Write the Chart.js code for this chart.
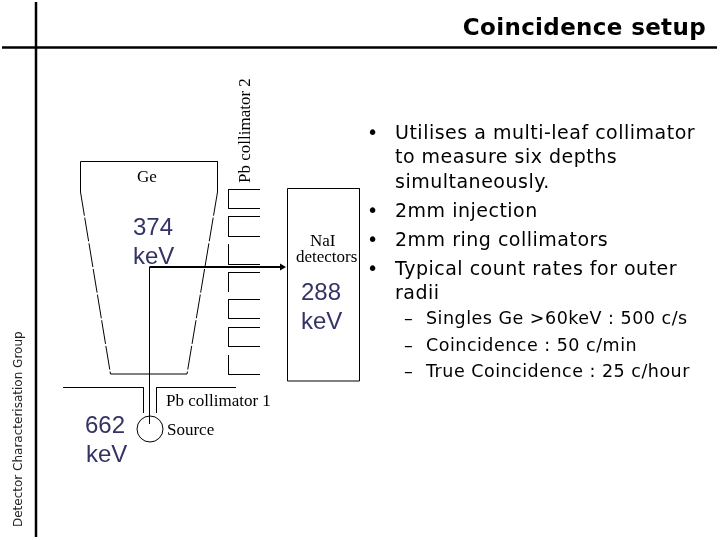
<!DOCTYPE html>
<html><head><meta charset="utf-8">
<style>html,body{margin:0;padding:0;background:#fff}canvas{display:block}</style>
<script src="https://cdn.jsdelivr.net/npm/chart.js@4"></script></head>
<body><canvas id="c" width="720" height="540"></canvas>
<script>
// Diagram geometry (slide units = reference pixels)
const frameVertical = [[36,2],[36,537]];
const frameHorizontal = [[2,47.5],[717,47.5]];
const geTop = [[80.5,192],[80.5,161.5],[217.5,161.5],[217.5,192]];
const geLeftSide = [[80.5,192],[110.5,374]];
const geRightSide = [[217.5,192],[187,374]];
const geBottom = [[110.5,374],[187,374]];
const leafBlocks = [
  [[260,189.5],[228.5,189.5],[228.5,208.5],[260,208.5]],
  [[260,216.5],[228.5,216.5],[228.5,236.5],[260,236.5]],
  [[228.5,244.5],[228.5,264.5],[260,264.5]],
  [[260,272.5],[228.5,272.5],[228.5,292]],
  [[260,299.5],[228.5,299.5],[228.5,318.5],[260,318.5]],
  [[260,327.5],[228.5,327.5],[228.5,346.5],[260,346.5]],
  [[228.5,355],[228.5,374.5],[260,374.5]]
];
const naiBox = [[287.5,188.5],[359.5,188.5],[359.5,381],[287.5,381],[287.5,188.5]];
const beamVertical = [[149.5,267],[149.5,424]];
const beamHorizontal = [[149.5,267],[281,267]];
const arrowHead = [[282,267]];
const pbLeft = [[63,387.5],[143.5,387.5],[143.5,413]];
const pbRight = [[236,387.5],[156.5,387.5],[156.5,413]];
const sourceCircle = [[150,429]];

const titleText = "Coincidence setup";
const sideText = "Detector Characterisation Group";
const bulletLines = ["Utilises a multi-leaf collimator","to measure six depths","simultaneously.","2mm injection","2mm ring collimators","Typical count rates for outer","radii"];
const subLines = ["Singles Ge >60keV : 500 c/s","Coincidence : 50 c/min","True Coincidence : 25 c/hour"];
const energyLabels = ["374","keV","288","keV","662","keV"];
const partLabels = ["Ge","NaI","detectors","Pb collimator 1","Source","Pb collimator 2"];

const line = (pts,w=1,dash=[]) => ({data:pts.map(p=>({x:p[0],y:p[1]})),showLine:true,borderColor:'#000',backgroundColor:'#000',borderWidth:w,borderDash:dash,pointRadius:0,tension:0,fill:false});
const datasets = [
  line(frameVertical,2.5), line(frameHorizontal,2.5),
  line(geTop), line(geLeftSide,1,[24,2]), line(geRightSide,1,[24,2]), line(geBottom),
  ...leafBlocks.map(b=>line(b)),
  line(naiBox), line(beamVertical,1), line(beamHorizontal,2),
  {data:arrowHead.map(p=>({x:p[0],y:p[1]})),showLine:false,pointStyle:'triangle',rotation:90,pointRadius:4,backgroundColor:'#000',borderColor:'#000',borderWidth:0},
  line(pbLeft), line(pbRight),
  {data:sourceCircle.map(p=>({x:p[0],y:p[1]})),showLine:false,pointStyle:'circle',pointRadius:13,backgroundColor:'rgba(0,0,0,0)',borderColor:'#000',borderWidth:1}
];

const SANS='"DejaVu Sans"', ARIAL='"Liberation Sans"', SERIF='"Liberation Serif"', BLUE='#333366';
const textPlugin = {id:'slideText',afterDatasetsDraw(ch){
  const c=ch.ctx,X=ch.scales.x,Y=ch.scales.y;
  const put=(s,x,y,font,col='#000',align='left',rot=0,sp=0)=>{c.save();c.translate(X.getPixelForValue(x),Y.getPixelForValue(y));c.rotate(rot);c.font=font;c.letterSpacing=sp+'px';c.fillStyle=col;c.textAlign=align;c.textBaseline='alphabetic';c.fillText(s,0,0);c.restore();};
  put(titleText,706,35,'bold 23px '+SANS,'#000','right',0,0.35);
  put(sideText,22,527,'12px '+SANS,'#222','left',-Math.PI/2);
  const bodyFont='19px '+SANS, subFont='17.5px '+SANS;
  [139,163,188,216.5,245.5,275,299].forEach((y,i)=>put(bulletLines[i],395,y,bodyFont,'#000','left',0,0.5));
  [139,216.5,245.5,275].forEach(y=>put('•',367,y,bodyFont));
  [324,351,377].forEach((y,i)=>{put('–',404,y,subFont);put(subLines[i],426,y,subFont,'#000','left',0,0.5);});
  [[133,235],[133,264],[301,300],[301,329],[85,433],[86,462]].forEach((p,i)=>put(energyLabels[i],p[0],p[1],'24px '+ARIAL,BLUE));
  const sf='17px '+SERIF;
  put(partLabels[0],137,182,sf); put(partLabels[1],310,246,sf); put(partLabels[2],296,262,sf);
  put(partLabels[3],166,406,sf); put(partLabels[4],167,435,sf);
  put(partLabels[5],250,183,sf,'#000','left',-Math.PI/2);
}};

new Chart(document.getElementById('c'),{
  type:'scatter',
  data:{datasets},
  options:{responsive:false,animation:false,devicePixelRatio:1,
    layout:{padding:0,autoPadding:false},
    plugins:{legend:{display:false},tooltip:{enabled:false},title:{display:false}},
    scales:{x:{type:'linear',min:0,max:720,display:false},y:{type:'linear',min:0,max:540,reverse:true,display:false}}},
  plugins:[textPlugin]
});
</script></body></html>
